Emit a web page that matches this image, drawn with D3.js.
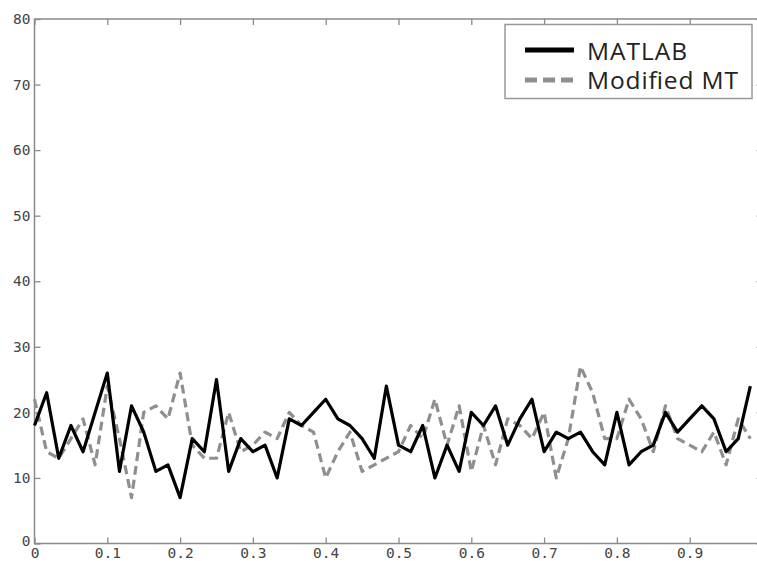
<!DOCTYPE html>
<html>
<head>
<meta charset="utf-8">
<script src="https://cdn.jsdelivr.net/npm/d3@7"></script>
<style>
  html, body { margin: 0; padding: 0; background: #fff; }
  svg { display: block; }
</style>
</head>
<body>
<svg id="chart" width="757" height="561"></svg>
<script>
// ---- data ----
const sampleX = [0.0000,0.0167,0.0333,0.0500,0.0667,0.0833,0.1000,0.1167,0.1333,0.1500,
                 0.1667,0.1833,0.2000,0.2167,0.2333,0.2500,0.2667,0.2833,0.3000,0.3167,
                 0.3333,0.3500,0.3667,0.3833,0.4000,0.4167,0.4333,0.4500,0.4667,0.4833,
                 0.5000,0.5167,0.5333,0.5500,0.5667,0.5833,0.6000,0.6167,0.6333,0.6500,
                 0.6667,0.6833,0.7000,0.7167,0.7333,0.7500,0.7667,0.7833,0.8000,0.8167,
                 0.8333,0.8500,0.8667,0.8833,0.9000,0.9167,0.9333,0.9500,0.9667,0.9833];
const matlabValues = [18,23,13,18,14,20,26,11,21,17,
                      11,12,7,16,14,25,11,16,14,15,
                      10,19,18,20,22,19,18,16,13,24,
                      15,14,18,10,15,11,20,18,21,15,
                      19,22,14,17,16,17,14,12,20,12,
                      14,15,20,17,19,21,19,14,16,24];
const modifiedValues = [22,14,13,16,19,12,24,16,7,20,
                        21,19,26,15,13,13,20,14,15,17,
                        16,20,18,17,10,14,17,11,12,13,
                        14,18,16,22,15,21,11,18,12,19,
                        18,16,20,10,16,27,23,16,16,22,
                        19,14,21,16,15,14,17,12,19,16];
const xTicks = [0,0.1,0.2,0.3,0.4,0.5,0.6,0.7,0.8,0.9];
const xTickLabels = ["0","0.1","0.2","0.3","0.4","0.5","0.6","0.7","0.8","0.9"];
const yTicks = [0,10,20,30,40,50,60,70,80];
const seriesNames = ["MATLAB","Modified MT"];

// ---- layout ----
const svg = d3.select("#chart");
const L = 34.5, R = 762.5, T = 19, B = 543.5;
const x = d3.scaleLinear().domain([0, 1]).range([L, R]);
const y = d3.scaleLinear().domain([0, 80]).range([B, T]);
const axisColor = "#8a8a8a";
const labelColor = "#444";
const monoFont = "'DejaVu Sans Mono', monospace";

// plot box
svg.append("rect").attr("x", L).attr("y", T).attr("width", R - L).attr("height", B - T)
  .attr("fill", "none").attr("stroke", axisColor).attr("stroke-width", 1.5);

function styleAxis(g) {
  g.select(".domain").remove();
  g.selectAll(".tick line").attr("stroke", axisColor).attr("stroke-width", 1.3);
  g.selectAll(".tick text").attr("fill", labelColor)
    .style("font-family", monoFont).style("font-size", "14.5px");
}
svg.append("g").attr("transform", `translate(0,${B})`)
  .call(d3.axisBottom(x).tickValues(xTicks).tickSizeInner(-6).tickSizeOuter(0)
        .tickPadding(4.5).tickFormat((d, i) => xTickLabels[i]))
  .call(styleAxis);
svg.append("g").attr("transform", `translate(0,${T})`)
  .call(d3.axisTop(x).tickValues(xTicks).tickSizeInner(-6).tickSizeOuter(0).tickFormat(""))
  .call(styleAxis);
const yAxisG = svg.append("g").attr("transform", `translate(${L},0)`)
  .call(d3.axisLeft(y).tickValues(yTicks).tickSizeInner(-6).tickSizeOuter(0)
        .tickPadding(4).tickFormat(d3.format("d")))
  .call(styleAxis);
svg.append("g").attr("transform", `translate(${R},0)`)
  .call(d3.axisRight(y).tickValues(yTicks).tickSizeInner(-6).tickSizeOuter(0).tickFormat(""))
  .call(styleAxis);
// nudge the y "0" label up slightly as in the reference
yAxisG.selectAll(".tick text").filter(d => d === 0).attr("dy", "0.15em");

// lines
const line = (vals) => d3.line().x((d, i) => x(sampleX[i])).y(d => y(d))(vals);
svg.append("path").attr("d", line(modifiedValues)).attr("fill", "none")
  .attr("stroke", "#8f8f8f").attr("stroke-width", 3.2).attr("stroke-dasharray", "9,5")
  .attr("stroke-linejoin", "round");
svg.append("path").attr("d", line(matlabValues)).attr("fill", "none")
  .attr("stroke", "#000").attr("stroke-width", 3.2).attr("stroke-linejoin", "round");

// legend
const lg = svg.append("g");
lg.append("rect").attr("x", 505).attr("y", 24.5).attr("width", 247).attr("height", 74)
  .attr("fill", "#fff").attr("stroke", "#999").attr("stroke-width", 1.5);
lg.append("line").attr("x1", 525).attr("x2", 574).attr("y1", 50).attr("y2", 50)
  .attr("stroke", "#000").attr("stroke-width", 5);
lg.append("line").attr("x1", 525).attr("x2", 574).attr("y1", 80).attr("y2", 80)
  .attr("stroke", "#8f8f8f").attr("stroke-width", 5).attr("stroke-dasharray", "12,6");
lg.append("text").attr("x", 587).attr("y", 60).text(seriesNames[0])
  .attr("textLength", 100).attr("lengthAdjust", "spacing")
  .attr("fill", "#222").style("font-family", "'Open Sans', sans-serif").style("font-size", "24.5px");
lg.append("text").attr("x", 587).attr("y", 89).text(seriesNames[1])
  .attr("textLength", 151).attr("lengthAdjust", "spacing")
  .attr("fill", "#222").style("font-family", "'Open Sans', sans-serif").style("font-size", "24.5px");
</script>
</body>
</html>
